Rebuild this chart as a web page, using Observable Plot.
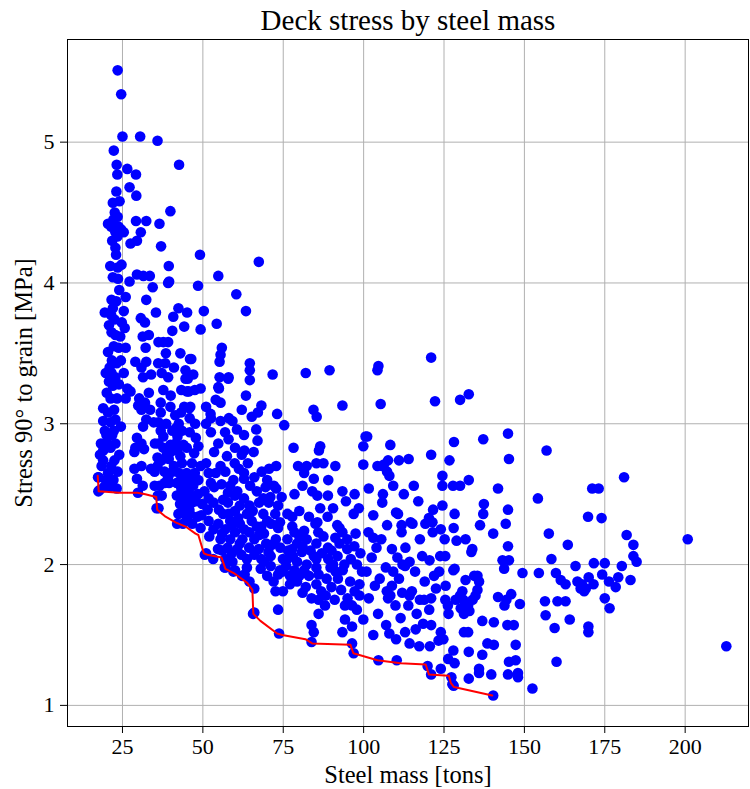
<!DOCTYPE html>
<html><head><meta charset="utf-8">
<script src="https://cdn.jsdelivr.net/npm/d3@7"></script>
<script src="https://cdn.jsdelivr.net/npm/@observablehq/plot@0.6"></script>
<style>body{margin:0;background:#fff}</style>
</head><body><div id="chart"></div>
<script>
const chartTitle = "Deck stress by steel mass";
const xLabel = "Steel mass [tons]";
const yLabel = "Stress 90° to grain [MPa]";
const xTicks = [25, 50, 75, 100, 125, 150, 175, 200];
const yTicks = [1, 2, 3, 4, 5];

// [steel mass (tons), stress (MPa)] for each design, grouped by mass band
const lightDesigns = [
[23.5,5.51],[24.6,5.34],[25.0,5.04],[22.3,4.94],[23.2,4.84],[23.4,4.77],[23.1,4.65],[24.1,4.58],[22.0,4.57],[20.5,4.42],[22.2,4.45],[23.5,4.47],[22.8,4.36],[24.6,4.38],[25.4,4.36],[22.8,4.25],[23.4,4.33],[23.5,4.11],[22.0,4.04],[23.6,4.03],[19.5,3.79],[21.6,3.88],[23.1,3.87],[21.5,3.77],[22.5,3.74],[21.6,3.65],[22.8,3.63],[24.3,3.62],[25.7,3.68],[23.8,3.54],[20.5,3.51],[21.7,3.45],[23.2,3.43],[19.8,3.36],[21.6,3.36],[22.8,3.33],[22.0,3.27],[23.9,3.28],[20.1,3.22],[21.3,3.18],[19.0,3.11],[20.5,3.08],[19.0,3.02],[21.3,3.01],[22.8,3.03],[19.5,2.95],[22.3,2.95],[18.3,2.86],[20.1,2.87],[22.8,2.86],[19.0,2.81],[21.3,2.83],[19.0,2.74],[22.5,2.74],[20.5,2.65],[17.6,2.62],[19.8,2.60],[22.2,2.60],[17.9,2.53],[23.2,2.54],[21.0,2.55],[26.0,3.18],[25.4,3.36],[26.5,3.25],[27.5,3.23],[26.0,3.54],[25.4,3.80],[26.0,3.90],[24.7,4.13],
[21.5,4.40],[22.5,4.40],[21.8,4.30],[23.8,4.40],[22.6,4.50],[17.4,2.62],[17.5,2.52],
[18.5,2.70],[18.0,2.78],[20.0,2.92],[21.8,2.92],[20.8,3.30],[22.4,3.10],[21.0,3.40],[22.3,3.55],[20.8,3.70],[22.0,3.82],[24.0,3.95],[23.0,4.20],[21.2,4.12],[24.8,3.72],[24.5,3.45],[23.3,3.18],[24.5,2.98],[24.0,2.78],[23.5,2.66],[19.2,2.55],[21.5,2.70],
[26.5,4.81],[29.2,4.77],[27.2,4.68],[29.3,4.62],[30.5,5.04],[29.2,4.44],[32.4,4.44],[30.7,4.36],[29.5,4.30],[27.5,4.28],[29.5,4.06],[31.5,4.05],[33.5,4.05],[34.4,3.97],[27.2,4.01],[32.4,3.88],[30.7,3.75],[32.0,3.72],[31.3,3.62],[33.2,3.63],[32.2,3.54],[29.0,3.44],[32.4,3.44],[30.9,3.40],[33.9,3.35],[31.4,3.33],[33.2,3.22],[30.2,3.18],[32.0,3.15],[29.9,3.13],[30.9,3.10],[33.6,3.10],[32.4,3.03],[34.7,3.01],[31.4,2.98],[29.5,2.90],[30.9,2.86],[29.0,2.83],[31.7,2.82],[28.7,2.80],[28.7,2.68],[30.9,2.70],[33.9,2.68],[29.5,2.61],[31.3,2.56],[29.8,2.51],[35.0,2.66],[35.0,2.56],[35.1,2.86]
];
const midDesigns = [
[35.9,5.01],[42.6,4.84],[39.9,4.51],[36.5,4.42],[37.0,4.26],[39.4,4.12],[39.5,4.01],[49.1,4.20],[48.5,3.98],[35.4,3.79],[42.4,3.82],[45.1,3.79],[40.8,3.76],[44.2,3.69],[40.5,3.66],[49.3,3.67],[37.7,3.58],[36.2,3.58],[39.2,3.58],[46.0,3.46],[36.1,3.43],[38.3,3.43],[37.2,3.36],[39.2,3.33],[44.6,3.38],[44.6,3.32],[37.7,3.24],[43.3,3.24],[45.1,3.23],[47.5,3.24],[49.3,3.25],[36.9,3.15],[39.9,3.12],[46.1,3.12],[36.9,3.08],[41.4,3.06],[43.2,3.08],[45.9,3.04],[47.6,3.00],[36.2,3.01],[38.6,3.00],[41.7,2.97],[36.9,2.95],[43.5,2.95],[45.9,2.94],[37.7,2.91],[42.1,2.91],[39.9,2.85],[44.0,2.85],[36.2,2.86],[37.7,2.83],[38.8,2.78],[42.1,2.81],[45.0,2.83],[47.3,2.79],[35.9,2.76],[37.2,2.74],[39.4,2.75],[43.0,2.77],[46.6,2.72],[49.3,2.70],[35.9,2.70],[38.1,2.66],[40.5,2.66],[42.6,2.65],[45.0,2.65],[47.5,2.65],[39.2,2.62],[41.9,2.58],[44.1,2.58],[46.4,2.60],[48.6,2.60],[36.5,2.56],[36.0,2.49],[37.2,2.49],[43.3,2.54],[45.6,2.54],[41.9,2.49],[43.8,2.47],[46.4,2.49],[42.9,2.43],[45.0,2.44],[46.6,2.44],[43.8,2.39],[45.8,2.39],[42.4,2.36],[45.0,2.33],[42.0,2.29],[43.8,2.29],[46.7,2.29],[48.3,2.34],[49.3,2.26],[36.2,2.40],[38.1,2.58],[39.5,2.58],[46.4,3.46],[45.3,3.32],[45.6,3.23],[45.8,3.11],[39.2,4.00],[35.6,2.40],
[44.0,2.52],[45.0,2.48],[44.5,2.42],[46.0,2.36],[47.0,2.56],[47.8,2.45],[48.5,2.50],[43.5,2.62],[41.0,2.70],[40.0,2.80],[41.5,2.86],[43.5,2.72],[47.8,2.90],[48.6,2.84],[40.5,2.95],[40.0,3.20],[42.5,3.00],[44.2,3.12],[41.0,3.40],[38.5,3.50],[43.0,3.50],[47.0,3.35],[50.5,2.52],[49.8,2.43],[49.5,2.35],
[54.8,4.05],[60.4,3.92],[63.4,3.80],[67.4,4.15],[50.3,3.80],[54.3,3.71],[55.9,3.54],[55.5,3.49],[55.2,3.44],[58.0,3.33],[55.2,3.33],[54.8,3.26],[64.6,3.43],[64.6,3.38],[64.6,3.31],[71.7,3.35],[63.4,3.20],[54.0,3.17],[55.5,3.15],[62.1,3.10],[51.0,3.12],[52.5,3.04],[51.0,3.00],[55.5,3.02],[59.2,3.02],[65.2,3.05],[68.2,3.13],[67.1,3.08],[73.1,3.07],[75.3,2.99],[60.6,2.96],[66.6,2.96],[52.5,2.94],[56.9,2.94],[62.8,2.92],[54.8,2.86],[60.0,2.83],[62.9,2.81],[62.1,2.78],[65.8,2.80],[51.0,2.72],[55.5,2.70],[59.9,2.72],[68.3,2.66],[70.6,2.68],[72.8,2.70],[51.8,2.65],[54.0,2.65],[57.0,2.66],[62.8,2.65],[52.5,2.58],[58.5,2.56],[62.8,2.61],[64.7,2.56],[72.8,2.54],[72.1,2.56],[66.8,2.52],[57.8,2.51],[60.7,2.52],[51.8,2.47],[56.3,2.46],[60.0,2.49],[62.8,2.47],[68.8,2.47],[53.3,2.44],[57.8,2.44],[61.5,2.42],[64.5,2.42],[67.5,2.44],[70.5,2.44],[73.4,2.42],[51.5,2.39],[56.3,2.36],[60.0,2.38],[63.7,2.36],[68.8,2.36],[72.5,2.36],[51.8,2.31],[54.8,2.29],[58.5,2.31],[61.5,2.29],[65.2,2.31],[68.2,2.27],[71.2,2.29],[53.3,2.25],[57.0,2.25],[60.0,2.23],[64.5,2.23],[67.5,2.21],[73.4,2.26],[55.5,2.18],[58.5,2.18],[62.3,2.18],[66.0,2.18],[69.7,2.15],[72.7,2.18],[54.7,2.11],[57.7,2.12],[60.7,2.11],[64.4,2.12],[67.4,2.11],[70.4,2.09],[74.1,2.12],[53.2,2.04],[57.0,2.04],[59.2,2.02],[63.7,2.04],[68.2,2.04],[71.1,2.06],[74.9,2.04],[51.0,2.08],[57.0,1.98],[60.0,1.96],[63.7,1.98],[71.1,1.99],[74.0,1.96],[62.2,1.92],[64.5,1.88],[66.0,1.83],[63.0,1.93],[73.4,1.93],[72.6,1.81],[74.9,1.81],[73.4,1.68],[66.0,1.66],[73.7,1.51],[52.4,3.07],[58.1,3.04],[57.9,3.32],[55.0,3.25],[50.6,2.07],[56.8,1.98],[59.5,1.95],[65.6,1.65],
[52.0,2.20],[55.0,2.39],[56.0,2.22],[58.0,2.36],[59.0,2.28],[61.0,2.33],[62.8,2.25],[65.5,2.38],[66.8,2.27],[69.0,2.22],[70.0,2.31],[71.5,2.14],[69.0,2.02],[66.0,2.07],[62.0,2.07],[61.5,2.15],[59.0,2.08],[56.0,2.10],[53.5,2.55],[55.8,2.57],[59.5,2.60],[61.2,2.68],[64.0,2.72],[66.0,2.62],[69.5,2.55],[71.0,2.48],[74.0,2.30],[74.5,2.48],[70.0,2.60],[67.0,2.88],[58.0,2.89],[53.5,2.80],[57.5,2.77],[70.0,1.92],[68.0,1.97],[72.0,1.88]
];
const heavyDesigns = [
[82.0,3.36],[89.4,3.38],[84.4,3.10],[85.4,3.05],[93.4,3.13],[78.2,2.83],[86.5,2.84],[86.1,2.81],[79.6,2.70],[82.3,2.70],[85.3,2.72],[87.5,2.72],[91.2,2.70],[81.5,2.65],[81.0,2.56],[84.0,2.52],[85.6,2.49],[88.9,2.49],[93.4,2.52],[97.2,2.50],[76.3,2.36],[77.8,2.34],[83.0,2.34],[85.0,2.29],[88.8,2.34],[92.5,2.26],[96.9,2.36],[77.8,2.27],[81.5,2.24],[85.9,2.23],[78.5,2.23],[76.3,2.18],[79.3,2.15],[82.3,2.18],[85.3,2.15],[91.2,2.19],[93.4,2.23],[94.9,2.18],[97.1,2.13],[77.8,2.11],[80.8,2.09],[84.5,2.06],[88.9,2.12],[91.9,2.06],[94.9,2.11],[76.3,2.04],[79.3,2.02],[82.3,2.00],[85.3,2.04],[89.0,2.04],[97.9,2.00],[75.9,1.99],[78.5,1.96],[81.5,1.96],[85.3,1.98],[89.7,1.98],[93.5,1.96],[74.8,1.95],[77.1,1.92],[79.3,1.88],[83.0,1.92],[86.0,1.93],[91.3,1.95],[95.8,1.88],[98.7,1.86],[77.1,1.86],[85.3,1.86],[86.8,1.81],[97.2,1.81],[95.0,1.76],[98.7,1.78],[83.8,1.76],[86.0,1.75],[88.0,1.71],[96.4,1.71],[94.2,1.71],[88.2,1.78],[83.8,1.57],[84.5,1.52],[94.2,1.61],[96.4,1.56],[93.4,1.52],[83.8,1.45],[96.4,1.44],[96.9,1.37],[99.9,1.61],[97.9,1.68],[91.8,2.28],[85.6,2.30],
[76.5,2.10],[78.0,2.06],[80.0,2.20],[81.0,2.13],[83.5,2.10],[87.0,2.08],[87.5,2.20],[90.0,2.10],[90.5,2.00],[92.5,2.15],[92.0,1.90],[94.0,2.00],[96.0,2.04],[97.5,2.22],[99.0,2.08],[80.0,1.92],[82.0,1.84],[88.5,1.90],[90.0,1.84],[93.0,1.82],[99.5,1.95],[80.0,2.38],[86.5,2.40],[90.5,2.40],[94.5,2.45],[98.5,2.40],[84.5,2.61],[78.5,2.50],[89.0,2.60],[91.0,1.75],[86.0,1.65],[81.0,1.80],
[104.6,3.41],[104.3,3.38],[105.3,3.14],[121.0,3.47],[122.2,3.16],[100.6,2.91],[99.9,2.84],[108.3,2.85],[128.1,2.87],[121.0,2.78],[99.9,2.71],[105.8,2.70],[107.6,2.74],[111.0,2.74],[114.0,2.75],[126.7,2.74],[107.3,2.66],[104.3,2.70],[108.0,2.63],[101.6,2.54],[109.2,2.56],[115.6,2.56],[124.5,2.63],[124.5,2.56],[127.8,2.56],[105.8,2.44],[124.5,2.42],[121.6,2.39],[110.7,2.36],[107.3,2.28],[111.8,2.28],[111.8,2.23],[115.2,2.29],[119.2,2.29],[121.4,2.30],[101.5,2.23],[103.0,2.19],[105.5,2.18],[121.5,2.23],[125.2,2.18],[108.8,2.11],[114.3,2.02],[112.1,2.00],[118.2,2.06],[123.8,2.06],[125.4,2.06],[100.9,1.95],[106.9,1.98],[109.2,1.95],[112.9,1.99],[121.9,1.92],[127.9,1.96],[101.6,1.76],[107.2,1.81],[108.8,1.85],[108.3,1.78],[107.6,1.76],[109.9,1.71],[114.3,1.78],[115.0,1.81],[122.5,1.83],[121.0,1.76],[118.8,1.75],[120.4,1.68],[125.4,1.75],[126.2,1.71],[113.9,1.71],[107.0,1.57],[108.0,1.51],[110.1,1.47],[112.9,1.52],[116.2,1.54],[114.3,1.44],[117.3,1.42],[121.0,1.57],[124.0,1.52],[123.3,1.46],[124.8,1.47],[126.3,1.33],[120.6,1.42],[104.6,1.32],[110.3,1.32],[119.9,1.28],[121.0,1.22],[124.0,1.26],[127.3,1.20],[106.3,2.71],[114.6,2.30],[120.3,2.33],[110.1,2.37],[101.1,2.91],[127.6,1.15],
[102.5,2.05],[104.0,2.12],[105.0,1.90],[103.5,1.85],[110.5,2.05],[111.0,1.90],[113.0,2.12],[116.0,1.95],[117.5,2.18],[119.0,1.88],[120.5,2.03],[123.5,1.95],[116.5,1.65],[118.5,1.58],[111.5,1.62],[104.5,1.65],[103.0,1.50],[106.0,2.50],[112.5,2.50],[117.0,2.45],[103.0,2.35],[124.0,2.25],[112.0,1.80],[117.5,1.75],[125.5,1.85]
];
const heaviestDesigns = [
[130.0,3.17],[132.7,3.21],[137.2,2.89],[144.9,2.93],[145.2,2.75],[130.0,2.56],[132.7,2.60],[141.8,2.54],[137.4,2.43],[137.2,2.36],[144.9,2.39],[128.3,2.36],[136.2,2.28],[144.2,2.29],[140.3,2.22],[128.0,2.26],[128.9,2.17],[131.7,2.18],[133.8,2.11],[144.9,2.13],[133.5,2.09],[143.2,2.03],[145.2,2.03],[143.7,1.97],[149.4,1.94],[128.3,1.97],[131.7,1.89],[135.4,1.92],[135.4,1.82],[130.7,1.81],[134.8,1.78],[128.6,1.75],[131.2,1.65],[141.8,1.77],[143.8,1.71],[148.6,1.72],[136.9,1.60],[140.5,1.59],[144.7,1.57],[146.7,1.57],[131.2,1.52],[138.5,1.44],[140.5,1.43],[147.3,1.43],[127.9,1.39],[132.7,1.38],[136.9,1.36],[145.2,1.31],[147.3,1.32],[128.3,1.30],[135.9,1.26],[135.9,1.23],[139.7,1.22],[144.9,1.22],[148.0,1.23],[148.0,1.20],[132.7,1.19],[152.5,1.12],[140.3,1.07],[128.0,1.14],[134.4,1.92],[135.9,1.88],[130.0,1.78],[131.0,1.75],[130.2,1.69],[132.5,1.71],[133.9,1.75],[144.4,1.75],[132.9,1.67],[126.4,1.65],[132.5,1.52],[145.9,1.79],
[158.4,2.04],[154.5,1.94],[159.8,1.94],[165.9,1.99],[171.6,2.01],[161.3,1.89],[162.8,1.86],[166.5,1.88],[169.1,1.83],[167.5,1.83],[170.0,1.91],[171.5,1.86],[156.4,1.74],[160.3,1.74],[162.8,1.74],[156.6,1.64],[164.1,1.61],[159.4,1.55],[169.9,1.56],[169.9,1.52],[160.0,1.31],[156.9,2.81],[154.2,2.47],[171.1,2.54],[173.1,2.54],[169.8,2.34],[157.6,2.22],[163.5,2.14],[181.0,2.62],[174.0,2.33],[181.8,2.21],[200.8,2.18],[183.9,2.14],[183.9,2.06],[184.9,2.02],[175.0,2.01],[180.3,1.99],[174.2,1.93],[179.2,1.91],[176.3,1.88],[178.4,1.84],[183.0,1.89],[175.0,1.76],[176.5,1.69],[212.8,1.42],[167.9,1.86],[168.6,1.81]
];

// lowest-stress frontier (red line)
const frontMass = [17.3,17.6,23.9,29.6,32.1,35.5,35.8,38.4,41.5,44.6,47.7,48.6,50.3,51.4,55.8,57.0,59.6,63.8,65.4,65.7,67.9,73.1,74.7,81.9,84.0,95.9,96.8,104.3,111.5,119.3,120.3,126.5,127.1,128.1,140.0];
const frontStress = [2.63,2.52,2.51,2.51,2.50,2.48,2.39,2.34,2.30,2.27,2.22,2.21,2.08,2.07,2.05,1.97,1.94,1.87,1.82,1.65,1.60,1.51,1.50,1.47,1.44,1.43,1.37,1.32,1.30,1.29,1.22,1.21,1.16,1.13,1.07];

const points = [...lightDesigns, ...midDesigns, ...heavyDesigns, ...heaviestDesigns]
  .map(([m, s]) => ({mass: m, stress: s}));
const front = frontMass.map((m, i) => ({mass: m, stress: frontStress[i]}));

const chart = Plot.plot({
  width: 750, height: 789,
  marginLeft: 67, marginRight: 2, marginTop: 39, marginBottom: 63,
  style: {fontFamily: "'Liberation Serif', 'Times New Roman', serif", fontSize: "22px", color: "#000", background: "#fff"},
  x: {domain: [7.9, 219.7]},
  y: {domain: [0.85, 5.729]},
  marks: [
    Plot.gridX(xTicks, {stroke: "#b0b0b0", strokeOpacity: 1, strokeWidth: 1}),
    Plot.gridY(yTicks, {stroke: "#b0b0b0", strokeOpacity: 1, strokeWidth: 1}),
    Plot.dot(points, {x: "mass", y: "stress", r: 5.3, fill: "#0000ff", stroke: "none"}),
    Plot.line(front, {x: "mass", y: "stress", stroke: "#ff0000", strokeWidth: 2}),
    Plot.frame({stroke: "#000", strokeWidth: 1}),
    Plot.axisX(xTicks, {tickSize: 7, tickPadding: 5, label: null, fontSize: 22, tickFormat: "d"}),
    Plot.axisY(yTicks, {tickSize: 7, tickPadding: 6, label: null, fontSize: 22, tickFormat: "d"}),
    Plot.text([chartTitle], {frameAnchor: "top", dy: -19, fontSize: 29, lineAnchor: "middle", textAnchor: "middle"}),
    Plot.text([xLabel], {frameAnchor: "bottom", dy: 49, fontSize: 24.5, lineAnchor: "middle", textAnchor: "middle"}),
    Plot.text([yLabel], {frameAnchor: "left", dx: -43, rotate: -90, fontSize: 24.5, lineAnchor: "middle", textAnchor: "middle"})
  ]
});
document.getElementById("chart").appendChild(chart);
</script>
</body></html>
